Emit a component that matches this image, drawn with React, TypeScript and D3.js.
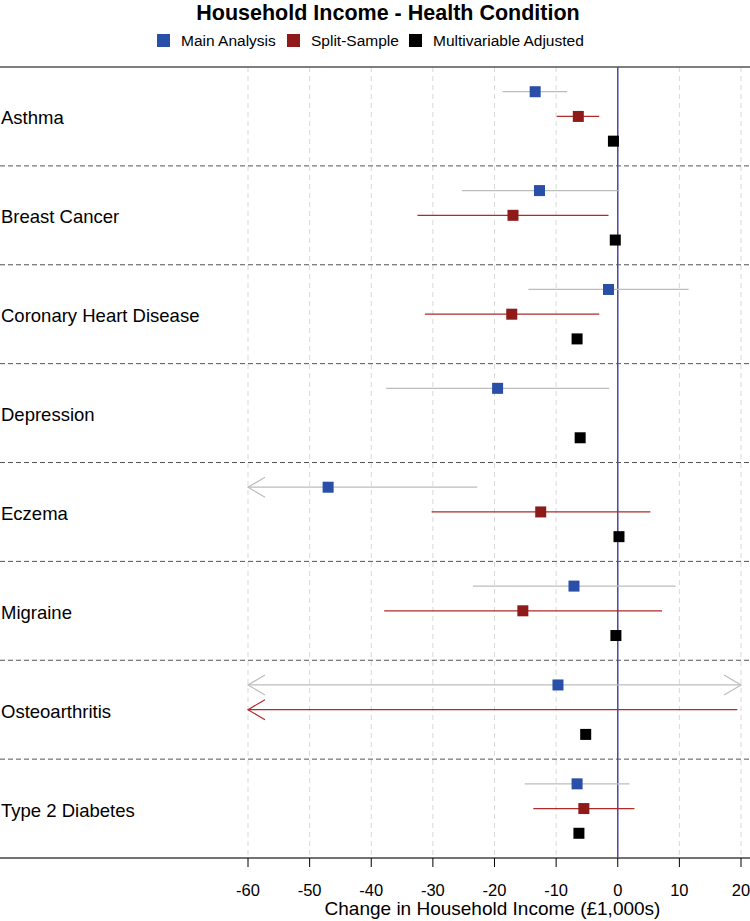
import * as d3 from "d3";

const conditions = [
  "Asthma",
  "Breast Cancer",
  "Coronary Heart Disease",
  "Depression",
  "Eczema",
  "Migraine",
  "Osteoarthritis",
  "Type 2 Diabetes",
];

const seriesNames = ["Main Analysis", "Split-Sample", "Multivariable Adjusted"];

// estimate, lower, upper (£1,000s); null = not estimated
const mainEst = [-13.4, -12.7, -1.5, -19.5, -47.0, -7.1, -9.7, -6.6];
const mainLo = [-18.7, -25.3, -14.5, -37.6, -75, -23.5, -95, -15.1];
const mainHi = [-8.2, 0.0, 11.5, -1.4, -22.8, 9.4, 35, 1.9];

const splitEst = [-6.4, -17.0, -17.2, null, -12.5, -15.4, -85, -5.5];
const splitLo = [-9.9, -32.5, -31.3, null, -30.2, -37.9, -190, -13.7];
const splitHi = [-3.0, -1.5, -3.0, null, 5.3, 7.2, 19.4, 2.7];

const multiEst = [-0.7, -0.4, -6.6, -6.1, 0.2, -0.3, -5.2, -6.3];
const multiLo = [-1.2, -0.9, -7.1, -6.6, -0.3, -0.8, -5.7, -6.8];
const multiHi = [-0.2, 0.1, -6.1, -5.6, 0.7, 0.2, -4.7, -5.8];

const xTicks = [-60, -50, -40, -30, -20, -10, 0, 10, 20];

const W = 750;
const H = 921;
const top = 67;
const bottom = 858;
const left = 248;
const right = 741;

const fills = ["#2a4fa8", "#8e1a1a", "#000000"];
const ciColors = ["#bdbdbd", "#b02a2a", "#000000"];

export default function App() {
  const x = d3.scaleLinear([-60, 20], [left, right]);
  const row = d3.scaleBand(conditions, [top, bottom]);
  const bw = row.bandwidth();
  const [xmin, xmax] = x.domain();

  const series = [
    { est: mainEst, lo: mainLo, hi: mainHi },
    { est: splitEst, lo: splitLo, hi: splitHi },
    { est: multiEst, lo: multiLo, hi: multiHi },
  ];

  const font = "Arial, 'Liberation Sans', sans-serif";
  const sq = 11;

  return (
    <svg
      width={W}
      height={H}
      style={{ position: "absolute", left: 0, top: 0, background: "#fff" }}
      fontFamily={font}
    >
      <text x={388} y={20} textAnchor="middle" fontSize={21.5} fontWeight="bold">
        Household Income - Health Condition
      </text>
      {/* legend */}
      {[157, 287, 409].map((lx, i) => (
        <g key={i}>
          <rect x={lx} y={34} width={13} height={13} fill={fills[i]} />
          <text x={lx + 24} y={46} fontSize={15.5}>
            {seriesNames[i]}
          </text>
        </g>
      ))}

      {/* vertical grid */}
      {xTicks.map((t) => (
        <line
          key={t}
          x1={x(t)}
          x2={x(t)}
          y1={top}
          y2={bottom}
          stroke="#d9d9d9"
          strokeDasharray="5,4"
        />
      ))}

      {/* row separators */}
      {conditions.slice(1).map((c) => (
        <line
          key={c}
          x1={0}
          x2={W}
          y1={row(c)}
          y2={row(c)}
          stroke="#555"
          strokeDasharray="5,3"
        />
      ))}

      <line x1={0} x2={W} y1={top} y2={top} stroke="#555" strokeWidth={1.5} />
      <line x1={0} x2={W} y1={bottom} y2={bottom} stroke="#444" strokeWidth={1.5} />

      {/* zero line */}
      <line x1={x(0)} x2={x(0)} y1={top} y2={bottom} stroke="#4a4aa8" strokeWidth={1.5} />

      {/* condition labels */}
      {conditions.map((c) => (
        <text key={c} x={1} y={(row(c) ?? 0) + bw / 2 + 8} fontSize={18.5}>
          {c}
        </text>
      ))}

      {/* estimates */}
      {series.map((s, si) =>
        conditions.map((c, ci) => {
          const est = s.est[ci];
          const lo = s.lo[ci];
          const hi = s.hi[ci];
          if (est === null || lo === null || hi === null) return null;
          const y = (row(c) ?? 0) + (bw * (si + 1)) / 4;
          const x1 = x(Math.max(lo, xmin));
          const x2 = x(Math.min(hi, xmax));
          return (
            <g key={`${si}-${ci}`}>
              <line x1={x1} x2={x2} y1={y} y2={y} stroke={ciColors[si]} strokeWidth={1.2} />
              {lo < xmin && (
                <path
                  d={`M${x1 + 17},${y - 10}L${x1},${y}L${x1 + 17},${y + 10}`}
                  fill="none"
                  stroke={ciColors[si]}
                  strokeWidth={1.2}
                />
              )}
              {hi > xmax && (
                <path
                  d={`M${x2 - 17},${y - 10}L${x2},${y}L${x2 - 17},${y + 10}`}
                  fill="none"
                  stroke={ciColors[si]}
                  strokeWidth={1.2}
                />
              )}
              {est >= xmin && est <= xmax && (
                <rect
                  x={x(est) - sq / 2}
                  y={y - sq / 2}
                  width={sq}
                  height={sq}
                  fill={fills[si]}
                />
              )}
            </g>
          );
        })
      )}

      {/* x axis */}
      {xTicks.map((t) => (
        <g key={t}>
          <line x1={x(t)} x2={x(t)} y1={bottom} y2={bottom + 9} stroke="#000" />
          <text x={x(t)} y={bottom + 38} textAnchor="middle" fontSize={16.5}>
            {t}
          </text>
        </g>
      ))}
      <text x={(left + right) / 2 - 2} y={915} textAnchor="middle" fontSize={19}>
        Change in Household Income (£1,000s)
      </text>
    </svg>
  );
}
